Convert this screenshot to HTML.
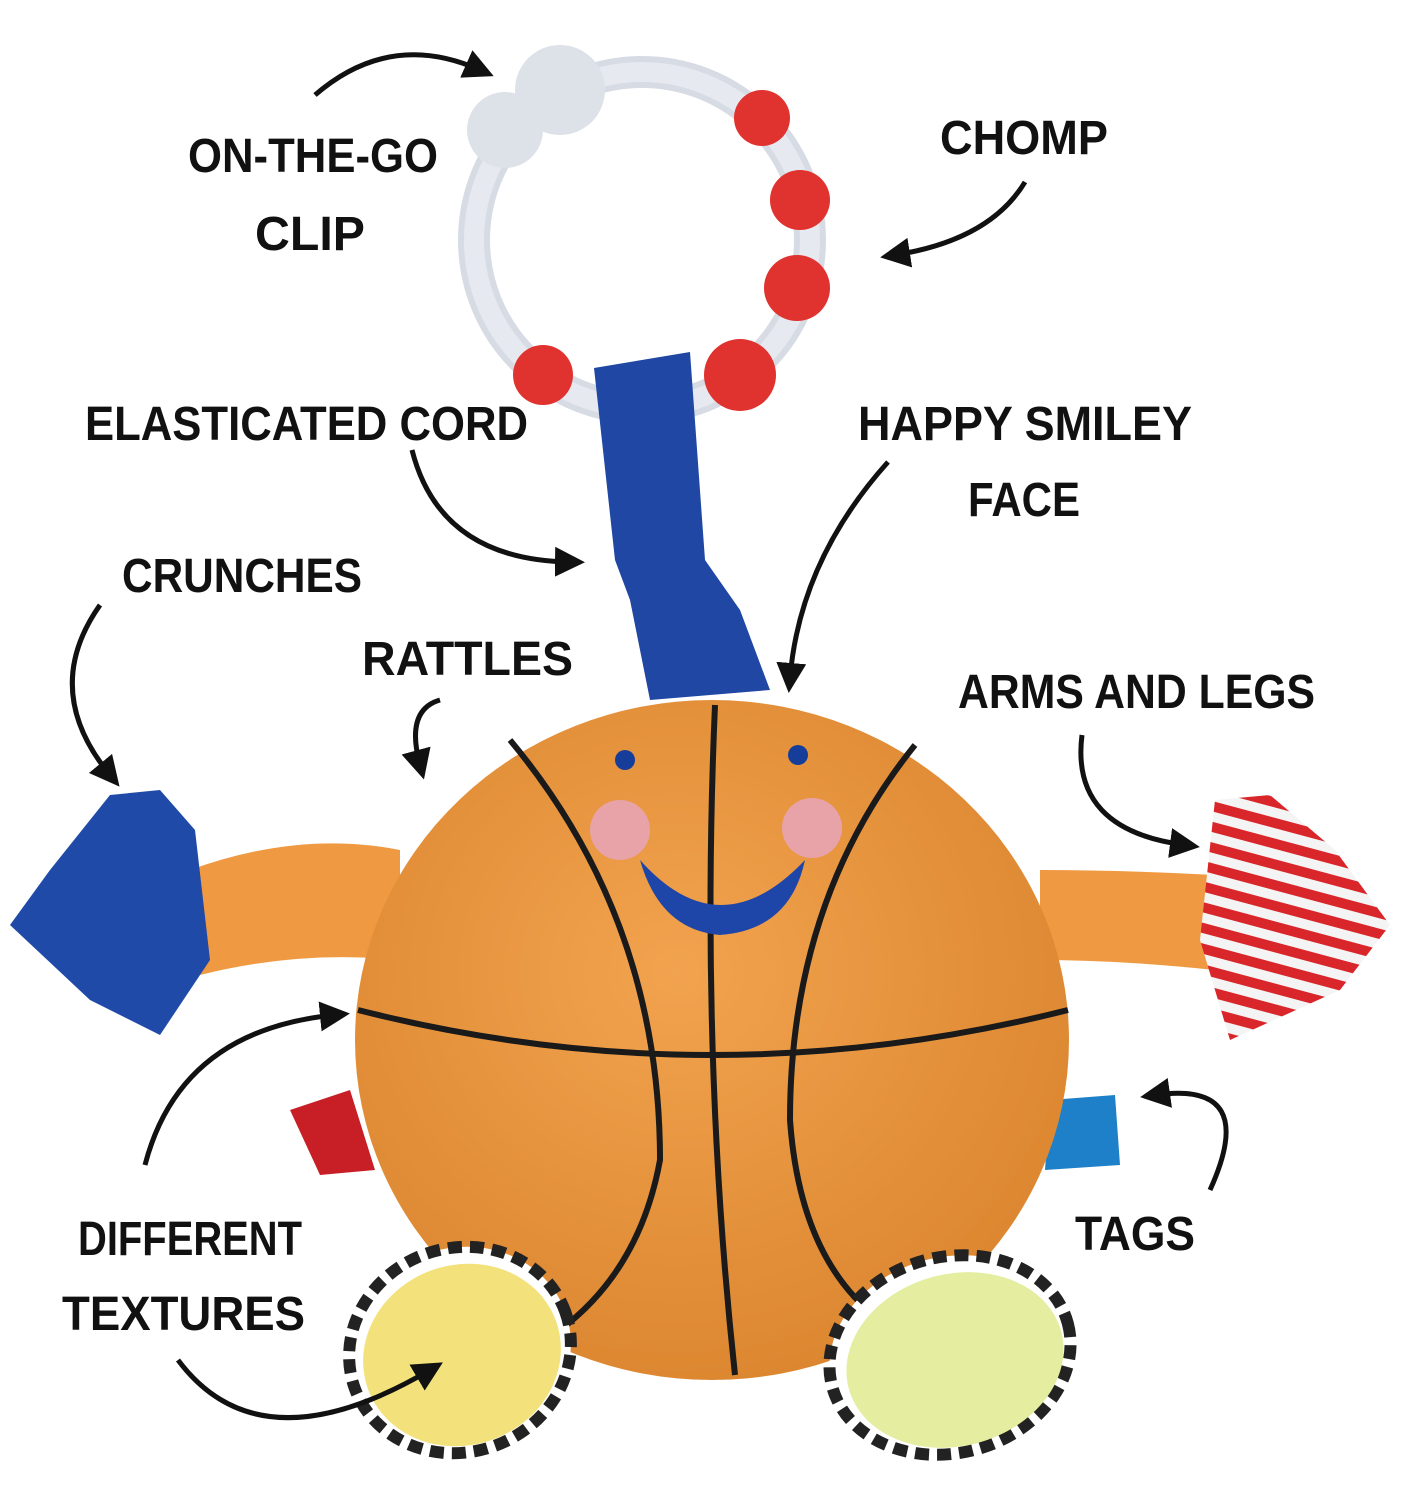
<!DOCTYPE html>
<html><head><meta charset="utf-8"><style>
html,body{margin:0;padding:0;background:#fff;}
svg{display:block}
text{font-family:"Liberation Sans Narrow","Liberation Sans",sans-serif;font-weight:bold;fill:#111;}
</style></head><body>
<svg width="1402" height="1504" viewBox="0 0 1402 1504" xmlns="http://www.w3.org/2000/svg">
<defs>
<marker id="ah" markerWidth="6" markerHeight="6" refX="3" refY="3" orient="auto" markerUnits="strokeWidth">
<path d="M0,0 L6,3 L0,6 z" fill="#111"/></marker>
<radialGradient id="ball" cx="0.45" cy="0.4" r="0.7">
<stop offset="0" stop-color="#f2a34e"/><stop offset="1" stop-color="#d9822c"/></radialGradient>
<pattern id="stripes" width="20" height="20" patternUnits="userSpaceOnUse" patternTransform="rotate(15)">
<rect width="20" height="20" fill="#f4f4f4"/><rect width="20" height="10" fill="#d8262a"/></pattern>
</defs>

<!-- ring -->
<circle cx="642" cy="240" r="168" fill="none" stroke="#d6dbe4" stroke-width="32"/>
<circle cx="642" cy="240" r="168" fill="none" stroke="#e6e9ef" stroke-width="20"/>
<g fill="#e0322e">
<circle cx="762" cy="118" r="28"/><circle cx="800" cy="200" r="30"/>
<circle cx="797" cy="288" r="33"/><circle cx="740" cy="375" r="36"/>
<circle cx="543" cy="375" r="30"/></g>
<circle cx="505" cy="130" r="38" fill="#dde1e8"/>
<circle cx="560" cy="90" r="45" fill="#dde1e8"/>

<!-- strap -->
<path d="M594,368 L690,352 L705,560 L740,610 L770,690 L650,700 L630,600 L615,560 Z" fill="#1f47a3"/>

<!-- left arm & star -->
<path d="M190,870 Q300,830 400,850 L400,960 Q300,950 200,975 Z" fill="#ef9a42"/>
<path d="M110,795 L160,790 L195,830 L210,960 L160,1035 L90,1000 L10,925 L50,870 Z" fill="#1f4aa8"/>
<!-- right arm & star -->
<path d="M1040,870 Q1120,870 1215,875 L1215,970 Q1120,960 1040,960 Z" fill="#ef9a42"/>
<path d="M1215,800 L1270,795 L1335,850 L1390,925 L1340,990 L1230,1040 L1200,940 Z" fill="url(#stripes)"/>
<!-- tags -->
<path d="M290,1110 L350,1090 L375,1170 L320,1175 Z" fill="#c71f25"/>
<path d="M1050,1100 L1115,1095 L1120,1165 L1045,1170 Z" fill="#1e80c8"/>

<!-- ball -->
<ellipse cx="712" cy="1040" rx="357" ry="340" fill="url(#ball)"/>
<g fill="none" stroke="#1a1a1a" stroke-width="6">
<path d="M358,1010 Q712,1100 1068,1010"/>
<path d="M715,705 Q700,1050 735,1375"/>
<path d="M510,740 Q660,920 660,1160 Q640,1270 560,1330"/>
<path d="M915,745 Q790,900 790,1120 Q800,1260 880,1320"/>
</g>
<circle cx="625" cy="760" r="10" fill="#173d9a"/><circle cx="798" cy="755" r="10" fill="#173d9a"/>
<circle cx="620" cy="830" r="30" fill="#e8a3a8"/><circle cx="812" cy="828" r="30" fill="#e8a3a8"/>
<path d="M640,860 Q720,950 805,860 Q790,930 720,935 Q660,930 640,860 Z" fill="#1e45a8"/>
<!-- feet -->
<ellipse cx="460" cy="1350" rx="112" ry="102" transform="rotate(-20 460 1350)" fill="#fff" stroke="#222" stroke-width="12" stroke-dasharray="14 8"/>
<ellipse cx="462" cy="1355" rx="100" ry="90" transform="rotate(-20 462 1355)" fill="#f3e27c"/>
<ellipse cx="950" cy="1355" rx="122" ry="98" transform="rotate(-15 950 1355)" fill="#fff" stroke="#222" stroke-width="12" stroke-dasharray="14 8"/>
<ellipse cx="955" cy="1360" rx="110" ry="86" transform="rotate(-15 955 1360)" fill="#e4eda0"/>

<!-- arrows -->
<g fill="none" stroke="#111" stroke-width="5" marker-end="url(#ah)">
<path d="M315,95 Q390,30 480,70"/>
<path d="M1025,182 Q990,240 895,255"/>
<path d="M412,450 Q440,560 570,562"/>
<path d="M888,462 Q800,560 790,678"/>
<path d="M100,605 Q40,690 110,775"/>
<path d="M440,700 Q405,710 420,765"/>
<path d="M1082,735 Q1070,830 1185,845"/>
<path d="M145,1165 Q180,1030 335,1015"/>
<path d="M1210,1190 Q1260,1080 1155,1095"/>
<path d="M178,1360 Q260,1470 430,1370"/>
</g>

<!-- labels -->
<g font-size="48">
<text x="188" y="172" textLength="250" lengthAdjust="spacingAndGlyphs">ON-THE-GO</text>
<text x="255" y="250" textLength="110" lengthAdjust="spacingAndGlyphs">CLIP</text>
<text x="940" y="154" textLength="168" lengthAdjust="spacingAndGlyphs">CHOMP</text>
<text x="85" y="440" textLength="443" lengthAdjust="spacingAndGlyphs">ELASTICATED CORD</text>
<text x="858" y="440" textLength="334" lengthAdjust="spacingAndGlyphs">HAPPY SMILEY</text>
<text x="968" y="516" textLength="112" lengthAdjust="spacingAndGlyphs">FACE</text>
<text x="122" y="592" textLength="240" lengthAdjust="spacingAndGlyphs">CRUNCHES</text>
<text x="362" y="675" textLength="211" lengthAdjust="spacingAndGlyphs">RATTLES</text>
<text x="958" y="708" textLength="357" lengthAdjust="spacingAndGlyphs">ARMS AND LEGS</text>
<text x="78" y="1255" textLength="224" lengthAdjust="spacingAndGlyphs">DIFFERENT</text>
<text x="62" y="1330" textLength="243" lengthAdjust="spacingAndGlyphs">TEXTURES</text>
<text x="1075" y="1250" textLength="120" lengthAdjust="spacingAndGlyphs">TAGS</text>
</g>
</svg>
</body></html>
